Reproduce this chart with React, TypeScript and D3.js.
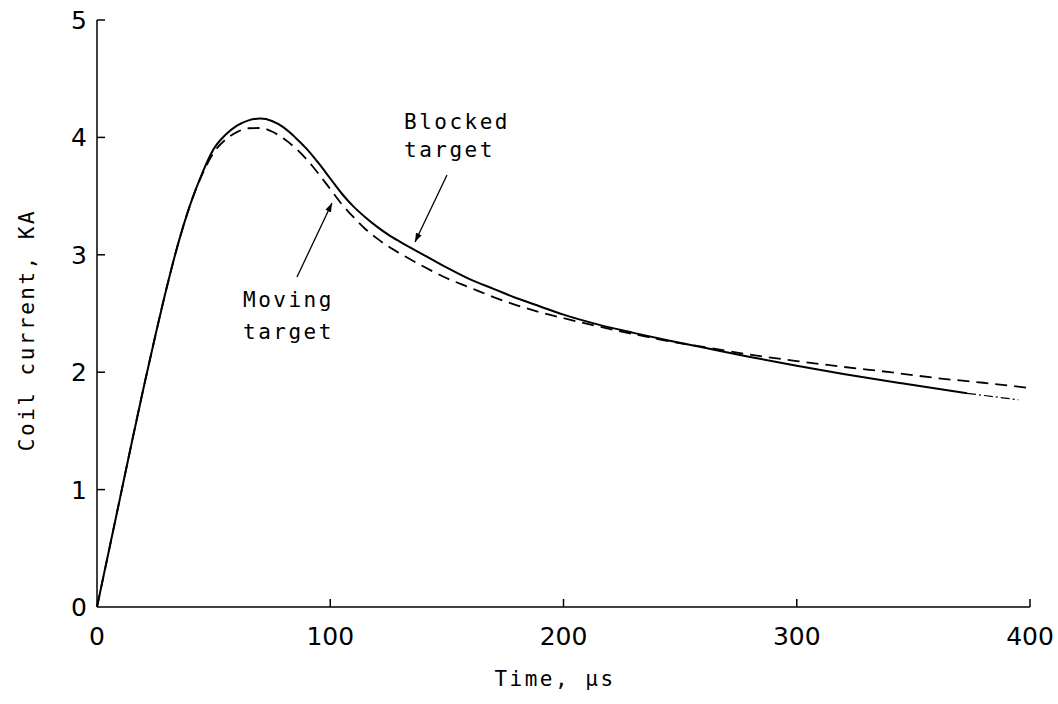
import React from "react";
import * as d3 from "d3";

const blockedT = [0, 5, 10, 15, 20, 25, 30, 35, 40, 45, 50, 55, 60, 65, 70, 75, 80, 85, 90, 95, 100, 105, 110, 115, 120, 125, 130, 140, 150, 160, 170, 180, 190, 200, 215, 230, 245, 260, 280, 300, 320, 345, 373];
const blockedV = [0, 0.47, 0.94, 1.41, 1.87, 2.31, 2.73, 3.11, 3.43, 3.69, 3.9, 4.02, 4.1, 4.145, 4.16, 4.14, 4.085, 4.0, 3.9, 3.78, 3.65, 3.52, 3.41, 3.32, 3.24, 3.17, 3.11, 3.0, 2.89, 2.79, 2.71, 2.63, 2.56, 2.49, 2.405, 2.335, 2.27, 2.21, 2.13, 2.055, 1.985, 1.905, 1.82];
const blockedTailT = [373, 385, 395];
const blockedTailV = [1.82, 1.79, 1.765];
const movingT = [0, 5, 10, 15, 20, 25, 30, 35, 40, 45, 50, 55, 60, 65, 70, 75, 80, 85, 90, 95, 100, 105, 110, 115, 120, 125, 130, 140, 150, 160, 170, 180, 190, 200, 215, 230, 245, 260, 280, 300, 320, 340, 360, 380, 400];
const movingV = [0, 0.47, 0.94, 1.41, 1.87, 2.31, 2.73, 3.11, 3.43, 3.68, 3.87, 3.98, 4.045, 4.078, 4.08, 4.05, 3.99, 3.91, 3.81, 3.69, 3.56, 3.43, 3.32, 3.22, 3.14, 3.07, 3.01, 2.9, 2.8, 2.72, 2.64, 2.57, 2.51, 2.46, 2.39, 2.325, 2.265, 2.215, 2.15, 2.095, 2.045, 2.0, 1.95, 1.91, 1.865];

const xTicks = [0, 100, 200, 300, 400];
const yTicks = [0, 1, 2, 3, 4, 5];
const xTitle = "Time, μs";
const yTitle = "Coil current, KA";

export default function App() {
  const x = d3.scaleLinear().domain([0, 400]).range([97, 1030]);
  const y = d3.scaleLinear().domain([0, 5]).range([607, 20]);
  const line = d3
    .line<[number, number]>()
    .x((d) => x(d[0]))
    .y((d) => y(d[1]))
    .curve(d3.curveMonotoneX);
  const blocked = blockedT.map((t, i) => [t, blockedV[i]] as [number, number]);
  const blockedTail = blockedTailT.map((t, i) => [t, blockedTailV[i]] as [number, number]);
  const moving = movingT.map((t, i) => [t, movingV[i]] as [number, number]);

  const labelFont = "'DejaVu Sans Mono', monospace";
  const tickFont = "'DejaVu Sans', sans-serif";
  const ls = 2.5;

  return (
    <svg width={1058} height={704} style={{ position: "absolute", left: 0, top: 0, background: "#fff" }}>
      <defs>
        <marker id="arr" viewBox="0 0 10 10" refX="10" refY="5" markerWidth="9" markerHeight="9" orient="auto" markerUnits="userSpaceOnUse">
          <path d="M0,1.5 L10,5 L0,8.5 z" fill="#000" />
        </marker>
      </defs>
      <line x1={x(0)} x2={x(0)} y1={y(5)} y2={y(0)} stroke="#000" strokeWidth={1.5} />
      <line x1={x(0)} x2={x(400)} y1={y(0)} y2={y(0)} stroke="#000" strokeWidth={1.5} />
      {yTicks.filter((v) => v > 0).map((v) => (
        <line key={"yt" + v} x1={x(0)} x2={x(0) + 8} y1={y(v)} y2={y(v)} stroke="#000" strokeWidth={1.5} />
      ))}
      {xTicks.filter((v) => v > 0).map((v) => (
        <line key={"xt" + v} x1={x(v)} x2={x(v)} y1={y(0)} y2={y(0) - 8} stroke="#000" strokeWidth={1.5} />
      ))}
      {yTicks.map((v) => (
        <text key={"yl" + v} x={87} y={y(v) + 9} textAnchor="end" fontFamily={tickFont} fontSize={25}>
          {v}
        </text>
      ))}
      {xTicks.map((v) => (
        <text key={"xl" + v} x={x(v)} y={645} textAnchor="middle" fontFamily={tickFont} fontSize={25}>
          {v}
        </text>
      ))}
      <text x={555} y={686} textAnchor="middle" fontFamily={labelFont} fontSize={21} letterSpacing={ls}>
        {xTitle}
      </text>
      <text transform="translate(34,330) rotate(-90)" textAnchor="middle" fontFamily={labelFont} fontSize={21} letterSpacing={ls}>
        {yTitle}
      </text>
      <path d={line(blocked) || ""} fill="none" stroke="#000" strokeWidth={2} />
      <path d={line(blockedTail) || ""} fill="none" stroke="#000" strokeWidth={1.2} strokeDasharray="9,3,2,3" />
      <path d={line(moving) || ""} fill="none" stroke="#000" strokeWidth={1.8} strokeDasharray="12,7" />
      <text x={404} y={129} fontFamily={labelFont} fontSize={21} letterSpacing={ls}>Blocked</text>
      <text x={404} y={157} fontFamily={labelFont} fontSize={21} letterSpacing={ls}>target</text>
      <line x1={447} y1={175} x2={415} y2={242} stroke="#000" strokeWidth={1.3} markerEnd="url(#arr)" />
      <text x={243} y={307} fontFamily={labelFont} fontSize={21} letterSpacing={ls}>Moving</text>
      <text x={243} y={339} fontFamily={labelFont} fontSize={21} letterSpacing={ls}>target</text>
      <line x1={297} y1={277} x2={332} y2={203} stroke="#000" strokeWidth={1.3} markerEnd="url(#arr)" />
    </svg>
  );
}
